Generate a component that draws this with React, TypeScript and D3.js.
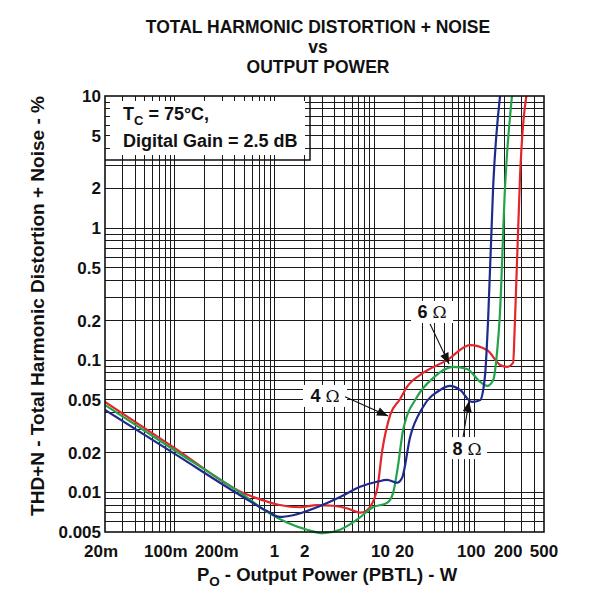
import React from 'react';
import * as d3 from 'd3';

// ---- data ----
const xTickValues = [0.02, 0.1, 0.2, 1, 2, 10, 20, 100, 200, 500];
const xTickLabels = ['20m', '100m', '200m', '1', '2', '10', '20', '100', '200', '500'];
const yTickValues = [10, 5, 2, 1, 0.5, 0.2, 0.1, 0.05, 0.02, 0.01, 0.005];
const yTickLabels = ['10', '5', '2', '1', '0.5', '0.2', '0.1', '0.05', '0.02', '0.01', '0.005'];

const seriesNames = ['4 Ω', '6 Ω', '8 Ω'];

const power4 = [0.02, 0.1, 0.48, 0.84, 1.13, 1.8, 2.66, 3.85, 5.5, 7.2, 8.4, 10.6, 12.0, 14.4, 18.1, 21.2, 30.7, 53.5, 90.8, 135, 182, 213, 245, 256, 288, 345];
const thd4 = [0.0483, 0.0216, 0.0099, 0.0085, 0.008, 0.0077, 0.008, 0.0079, 0.0075, 0.007, 0.0073, 0.0104, 0.0209, 0.0385, 0.0508, 0.0627, 0.08, 0.1, 0.13, 0.119, 0.092, 0.0889, 0.0953, 0.2, 2.52, 12];

const power6 = [0.02, 0.1, 0.483, 0.84, 1.33, 2.11, 3.06, 4.53, 6.7, 9.68, 13.4, 15.4, 17.0, 19.4, 26.7, 38.7, 61.4, 84.7, 115, 135, 155, 169, 180, 204, 242];
const thd6 = [0.0458, 0.0207, 0.0096, 0.0071, 0.0059, 0.0052, 0.0049, 0.0052, 0.0062, 0.0077, 0.0083, 0.0099, 0.0148, 0.0296, 0.0526, 0.0733, 0.0889, 0.0858, 0.0684, 0.0638, 0.0708, 0.113, 0.21, 2.12, 11];

const power8 = [0.02, 0.1, 0.483, 0.84, 1.13, 1.53, 2.66, 4.53, 7.18, 10.6, 13.4, 16.9, 18.9, 22.8, 30.7, 45.5, 57.3, 72.1, 95, 115, 123, 129, 138, 155, 184];
const thd8 = [0.042, 0.0195, 0.0092, 0.0072, 0.0065, 0.0067, 0.0077, 0.0092, 0.011, 0.012, 0.0124, 0.0118, 0.0128, 0.0262, 0.0442, 0.0595, 0.0638, 0.0595, 0.0483, 0.05, 0.0595, 0.08, 0.209, 2.12, 11];

// annotation anchors in data units: label centre, arrow tail, arrow tip
const annoLabelPower = [3.2, 37.8, 84.7];
const annoLabelThd = [0.0536, 0.2317, 0.0216];
const annoTailPower = [5.08, 36.1, 77.3];
const annoTailThd = [0.0528, 0.188, 0.0262];
const annoTipPower = [13.7, 56, 88.8];
const annoTipThd = [0.0378, 0.0936, 0.0491];

const FONT = '"Liberation Sans", Arial, Helvetica, sans-serif';
const COLORS = ['#e3262b', '#22a34a', '#1f2b8c'];

export default function App() {
  const W = 600, H = 600;
  const L = 105, R = 544, T = 96, B = 532;
  const x = d3.scaleLog().domain([0.02, 500]).range([L, R]);
  const y = d3.scaleLog().domain([0.005, 10]).range([B, T]);

  const gridX: number[] = [];
  [0.01, 0.1, 1, 10, 100].forEach((d) => {
    for (let k = 1; k <= 9; k++) {
      const v = +(k * d).toPrecision(3);
      if (v > 0.02 && v < 500) gridX.push(v);
    }
  });
  const gridY: number[] = [];
  [0.001, 0.01, 0.1, 1].forEach((d) => {
    for (let k = 1; k <= 9; k++) {
      const v = +(k * d).toPrecision(3);
      if (v > 0.005 && v < 10) gridY.push(v);
    }
  });

  const line = d3
    .line<[number, number]>()
    .x((d) => x(d[0]))
    .y((d) => y(d[1]))
    .curve(d3.curveMonotoneX);

  const series = [
    { p: power4, t: thd4 },
    { p: power6, t: thd6 },
    { p: power8, t: thd8 },
  ];

  const xLabelShift: Record<string, number> = { '20m': -4, '100m': -9, '200m': 12, '10': 6, '100': -3, '200': 4 };

  const legendBox = { x0: L, y0: T, x1: 310, y1: 160 };
  const inset = 5;

  const arrowHead = (x1: number, y1: number, x2: number, y2: number) => {
    const ang = Math.atan2(y2 - y1, x2 - x1);
    const len = 11, hw = 4.5;
    const bx = x2 - len * Math.cos(ang), by = y2 - len * Math.sin(ang);
    const px = -Math.sin(ang) * hw, py = Math.cos(ang) * hw;
    return `M${x2},${y2}L${bx + px},${by + py}L${bx - px},${by - py}Z`;
  };

  const annoW = [44, 42, 40];
  const annoH = 22;

  return (
    <svg width={W} height={H} style={{ position: 'absolute', left: 0, top: 0, background: '#fff' }} fontFamily={FONT}>
      <defs>
        <clipPath id="plotClip">
          <rect x={L} y={T} width={R - L} height={B - T + 8} />
        </clipPath>
      </defs>
      <rect x={0} y={0} width={W} height={H} fill="#fff" />

      {/* title */}
      <g fontWeight="bold" fontSize={17.5} textAnchor="middle" fill="#111">
        <text x={318} y={33}>TOTAL HARMONIC DISTORTION + NOISE</text>
        <text x={318} y={53}>vs</text>
        <text x={318} y={73}>OUTPUT POWER</text>
      </g>

      {/* grid */}
      <g stroke="#1a1a1a" strokeWidth={1} shapeRendering="crispEdges">
        {gridX.map((v) => (
          <line key={'gx' + v} x1={x(v)} x2={x(v)} y1={T} y2={B} />
        ))}
        {gridY.map((v) => (
          <line key={'gy' + v} x1={L} x2={R} y1={y(v)} y2={y(v)} />
        ))}
      </g>

      {/* legend box */}
      <rect
        x={legendBox.x0 + inset}
        y={legendBox.y0 + inset}
        width={legendBox.x1 - legendBox.x0 - 2 * inset}
        height={legendBox.y1 - legendBox.y0 - 2 * inset}
        fill="#fff"
      />
      <path
        d={`M${legendBox.x1},${legendBox.y0}V${legendBox.y1}H${legendBox.x0}`}
        fill="none"
        stroke="#111"
        strokeWidth={1.5}
      />
      <g fontWeight="bold" fontSize={18} fill="#111">
        <text x={123} y={120}>
          T<tspan fontSize={13} dy={5}>C</tspan>
          <tspan dy={-5}> = 75°C,</tspan>
        </text>
        <text x={123} y={147}>Digital Gain = 2.5 dB</text>
      </g>

      {/* curves */}
      <g clipPath="url(#plotClip)" fill="none" strokeWidth={2.2} strokeLinejoin="round" strokeLinecap="round">
        {series.map((s, i) => (
          <path
            key={'s' + i}
            d={line(s.p.map((p, j) => [p, s.t[j]] as [number, number])) || ''}
            stroke={COLORS[i]}
          />
        ))}
      </g>

      {/* annotations */}
      {seriesNames.map((name, i) => {
        const cx = x(annoLabelPower[i]);
        const cy = y(annoLabelThd[i]);
        const tx = x(annoTailPower[i]), ty = y(annoTailThd[i]);
        const hx = x(annoTipPower[i]), hy = y(annoTipThd[i]);
        const [num] = name.split(' ');
        return (
          <g key={'a' + i}>
            <rect x={cx - annoW[i] / 2} y={cy - annoH / 2} width={annoW[i]} height={annoH} fill="#fff" />
            <line x1={tx} y1={ty} x2={hx} y2={hy} stroke="#111" strokeWidth={1.1} />
            <path d={arrowHead(tx, ty, hx, hy)} fill="#111" />
            <text x={cx} y={cy + 6.5} textAnchor="middle" fontSize={18} fill="#111">
              <tspan fontWeight="bold">{num} </tspan>
              <tspan fontWeight="normal" fontFamily='"DejaVu Serif", serif' fontSize={17}>Ω</tspan>
            </text>
          </g>
        );
      })}

      {/* frame */}
      <rect x={L} y={T} width={R - L} height={B - T} fill="none" stroke="#111" strokeWidth={1.6} />

      {/* axis tick labels */}
      <g fontWeight="bold" fontSize={17} fill="#111">
        {yTickValues.map((v, i) => (
          <text key={'yt' + v} x={101} y={y(v)} dy="0.36em" textAnchor="end">
            {yTickLabels[i]}
          </text>
        ))}
        {xTickValues.map((v, i) => (
          <text key={'xt' + v} x={x(v) + (xLabelShift[xTickLabels[i]] || 0)} y={557} textAnchor="middle">
            {xTickLabels[i]}
          </text>
        ))}
      </g>

      {/* axis titles */}
      <text
        transform="translate(44,306) rotate(-90)"
        textAnchor="middle"
        fontWeight="bold"
        fontSize={19}
        fill="#111"
      >
        THD+N - Total Harmonic Distortion + Noise - %
      </text>
      <text x={327} y={581} textAnchor="middle" fontWeight="bold" fontSize={18.5} fill="#111">
        P<tspan fontSize={13.5} dy={5}>O</tspan>
        <tspan dy={-5}> - Output Power (PBTL) - W</tspan>
      </text>
    </svg>
  );
}
